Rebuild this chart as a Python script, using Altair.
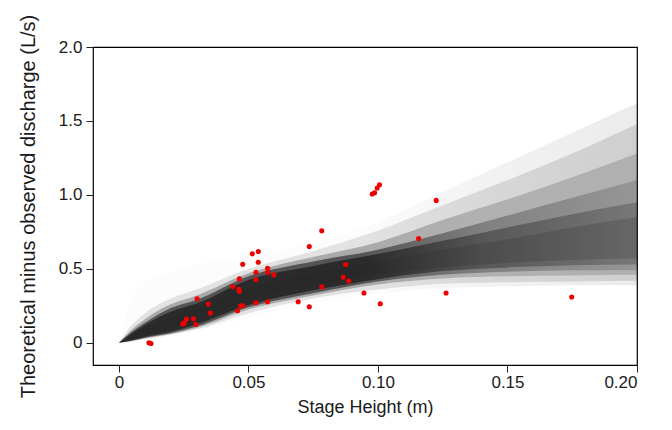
import altair as alt
import pandas as pd

# ---- data ----
stage_grid = [0.0, 0.005, 0.01, 0.02, 0.03, 0.05, 0.075, 0.10, 0.125, 0.15, 0.175, 0.20]

# nested envelopes of the posterior curve fan (outer -> inner)
b1_lo = [0.0, 0.005, 0.02, 0.05, 0.08, 0.17, 0.27, 0.33, 0.37, 0.38, 0.39, 0.39]
b1_hi = [0.0, 0.30, 0.40, 0.48, 0.53, 0.58, 0.68, 0.82, 1.02, 1.22, 1.42, 1.62]
b2_lo = [0.0, 0.008, 0.025, 0.055, 0.09, 0.20, 0.30, 0.36, 0.40, 0.41, 0.415, 0.42]
b2_hi = [0.0, 0.12, 0.20, 0.30, 0.36, 0.50, 0.62, 0.76, 0.93, 1.10, 1.28, 1.48]
b3_lo = [0.0, 0.012, 0.03, 0.06, 0.10, 0.225, 0.32, 0.395, 0.435, 0.45, 0.455, 0.46]
b3_hi = [0.0, 0.09, 0.16, 0.26, 0.32, 0.47, 0.58, 0.68, 0.83, 0.97, 1.12, 1.28]
b4_lo = [0.0, 0.015, 0.035, 0.065, 0.11, 0.24, 0.335, 0.415, 0.46, 0.48, 0.49, 0.49]
b4_hi = [0.0, 0.075, 0.135, 0.235, 0.29, 0.45, 0.55, 0.63, 0.74, 0.86, 0.98, 1.10]
b5_lo = [0.0, 0.018, 0.04, 0.075, 0.125, 0.255, 0.355, 0.43, 0.485, 0.51, 0.525, 0.53]
b5_hi = [0.0, 0.065, 0.12, 0.21, 0.265, 0.425, 0.52, 0.60, 0.69, 0.78, 0.87, 0.95]
b6_lo = [0.0, 0.025, 0.05, 0.095, 0.15, 0.29, 0.39, 0.46, 0.51, 0.54, 0.56, 0.57]
b6_hi = [0.0, 0.05, 0.095, 0.17, 0.23, 0.37, 0.47, 0.55, 0.63, 0.70, 0.78, 0.85]

obs_stage = [0.0116, 0.0124, 0.0246, 0.0252, 0.0261, 0.0288, 0.0297, 0.0302, 0.0345, 0.0353,
             0.0440, 0.0465, 0.0463, 0.0465, 0.0478, 0.0458, 0.0470, 0.0479, 0.0515, 0.0538,
             0.0538, 0.0574, 0.0574, 0.0529, 0.0529, 0.0598, 0.0529, 0.0574, 0.0735, 0.0783,
             0.0692, 0.0735, 0.0875, 0.0866, 0.0887, 0.0783, 0.1006, 0.0997, 0.0987, 0.0978,
             0.1225, 0.1157, 0.0946, 0.1009, 0.1263, 0.1748]
obs_diff = [0.000, -0.005, 0.127, 0.133, 0.160, 0.163, 0.124, 0.298, 0.262, 0.201,
            0.380, 0.432, 0.361, 0.348, 0.531, 0.217, 0.251, 0.251, 0.601, 0.617,
            0.545, 0.504, 0.477, 0.477, 0.427, 0.459, 0.271, 0.278, 0.651, 0.378,
            0.278, 0.244, 0.529, 0.443, 0.418, 0.757, 1.069, 1.046, 1.015, 1.006,
            0.963, 0.705, 0.337, 0.264, 0.337, 0.310]

x_ticks = [0, 0.05, 0.10, 0.15, 0.20]
y_ticks = [0, 0.5, 1.0, 1.5, 2.0]

FONT = "Liberation Sans"

xscale = alt.Scale(domain=[-0.01, 0.20], nice=False, zero=False)
yscale = alt.Scale(domain=[-0.15, 2.0], nice=False, zero=False)

x_axis = alt.Axis(values=x_ticks, title="Stage Height (m)",
                  labelExpr="datum.value == 0 ? '0' : format(datum.value, '.2f')",
                  titlePadding=8, labelPadding=2)
y_axis = alt.Axis(values=y_ticks, title="Theoretical minus observed discharge (L/s)",
                  labelExpr="datum.value == 0 ? '0' : format(datum.value, '.1f')",
                  labelPadding=4, titleFontSize=20,
                  titleX=-65, titleY=159, titleBaseline="middle", titleAngle=270)


def band(lo, hi, a_left, a_mid, a_right):
    df = pd.DataFrame({"h": stage_grid, "lo": lo, "hi": hi})
    stops = [(0.0, a_left), (0.47, a_left), (0.7, a_mid), (1.0, a_right)]
    grad = alt.Gradient(
        gradient="linear", x1=0, x2=1, y1=0, y2=0,
        stops=[alt.GradientStop(color=f"rgba(0,0,0,{a})", offset=o) for o, a in stops],
    )
    return alt.Chart(df).mark_area(color=grad, opacity=1, interpolate="monotone").encode(
        x=alt.X("h:Q", scale=xscale, axis=x_axis),
        y=alt.Y("lo:Q", scale=yscale, axis=y_axis),
        y2="hi:Q",
    )


layers = [
    band(b1_lo, b1_hi, 0.012, 0.05, 0.08),
    band(b2_lo, b2_hi, 0.10, 0.11, 0.12),
    band(b3_lo, b3_hi, 0.25, 0.18, 0.15),
    band(b4_lo, b4_hi, 0.50, 0.28, 0.15),
    band(b5_lo, b5_hi, 0.50, 0.32, 0.20),
    band(b6_lo, b6_hi, 0.05, 0.12, 0.15),
]

pts = alt.Chart(pd.DataFrame({"h": obs_stage, "d": obs_diff})).mark_circle(
    size=26, color="#ee0000", opacity=1
).encode(
    x=alt.X("h:Q", scale=xscale, axis=x_axis),
    y=alt.Y("d:Q", scale=yscale, axis=y_axis),
)

chart = alt.layer(*layers, pts).properties(
    width=544, height=318,
    autosize=alt.AutoSizeParams(type="none"),
    padding={"left": 85, "top": 39, "right": 27, "bottom": 57},
    background="white",
).configure_view(
    stroke="black", strokeWidth=1.2
).configure_axis(
    grid=False, domain=False, tickColor="#222222", tickSize=7, tickWidth=1,
    labelFont=FONT, titleFont=FONT, labelFontSize=17, titleFontSize=18,
    labelColor="#1a1a1a", titleColor="#1a1a1a", titleFontWeight="normal",
)

chart.save("out.html", embed_options={"renderer": "svg", "actions": False})
